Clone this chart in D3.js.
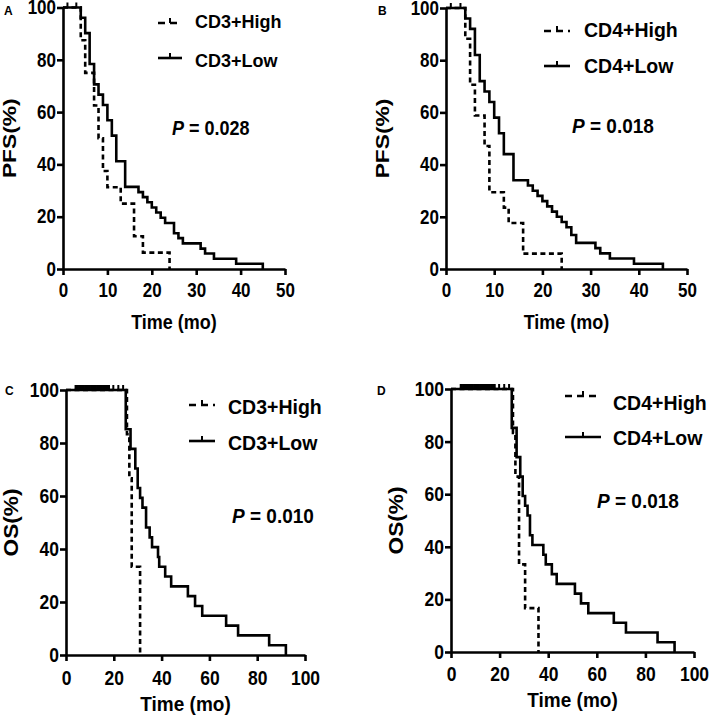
<!DOCTYPE html>
<html lang="en">
<head>
<meta charset="UTF-8">
<title>Kaplan-Meier PFS / OS by CD3+ and CD4+</title>
<script src="https://d3js.org/d3.v7.min.js"></script>
<style>
    body { margin: 0; background: #fff; }
    svg text { font-family: "Liberation Sans", Arial, sans-serif; font-weight: bold; fill: #000; }
</style>
</head>
<body>
<script>
// tick values
const yTicks = [0, 20, 40, 60, 80, 100];
const pfsXTicks = [0, 10, 20, 30, 40, 50];
const osXTicks = [0, 20, 40, 60, 80, 100];

// censor marks (months), all at 100%
const pfsCensor = [1, 3];
const osCensor = [4, 4.5, 5, 5.5, 6, 6.5, 7, 7.5, 8, 8.5, 9, 9.5, 10, 10.5, 11, 11.5,
    12, 12.5, 13, 13.5, 14, 14.5, 15, 15.5, 16, 16.5, 17, 17.5, 18, 19.8, 21.9, 23.9];

// A: PFS, CD3+
const aLowT = [4, 5, 6, 7, 8, 9, 10, 11, 12, 14, 17, 18, 19, 20, 21, 22, 23, 25, 26, 27, 31, 32, 34, 39, 45];
const aLowS = [96.1, 90.2, 78.4, 70.6, 66.7, 62.7, 56.9, 51.0, 41.2, 31.4, 29.4, 27.5, 25.5, 23.5, 21.6, 19.6, 17.6, 13.7, 11.8, 9.8, 7.8, 5.9, 3.9, 2.0, 0];
const aHighT = [4, 5, 7, 8, 9, 10, 13, 16, 18, 24];
const aHighS = [87.5, 75, 62.5, 50, 37.5, 31.25, 25, 12.5, 6.25, 0];

// B: PFS, CD4+
const bLowT = [4, 5, 6, 7, 8, 9, 10, 11, 12, 14, 17, 18, 19, 20, 21, 22, 23, 24, 25, 26, 27, 31, 32, 34, 39, 45];
const bLowS = [96, 92, 82, 72, 68, 64, 58, 52, 44, 34, 32, 30, 28, 26, 24, 22, 20, 18, 16, 13, 10, 8, 6, 4, 2, 0];
const bHighT = [4, 5, 6, 8, 9, 12, 13, 16, 24];
const bHighS = [88.2, 70.6, 58.8, 47.1, 29.4, 23.5, 17.6, 5.9, 0];

// C: OS, CD3+
const cLowT = [25, 27, 29, 30, 31, 32, 33.5, 35, 36, 38.5, 39, 41.5, 44, 51, 54, 57, 67, 72, 85, 92];
const cLowS = [85.2, 77.8, 70.4, 63.0, 59.3, 55.6, 48.1, 44.4, 40.7, 37.0, 33.3, 29.6, 25.9, 22.2, 18.5, 14.8, 11.1, 7.4, 3.7, 0];
const cHighT = [25.5, 26.5, 27.5, 31];
const cHighS = [83.3, 66.7, 33.3, 0];

// D: OS, CD4+
const dLowT = [25, 27, 28.5, 29.5, 30.5, 31.5, 32.5, 33.5, 38, 39, 41.5, 43.5, 51, 53.5, 56.5, 67, 72, 85, 92];
const dLowS = [85.2, 74.1, 66.7, 59.3, 55.6, 51.9, 44.4, 40.7, 37.0, 33.3, 29.6, 25.9, 22.2, 18.5, 14.8, 11.1, 7.4, 3.7, 0];
const dHighT = [25.5, 26.5, 28, 30.5, 36];
const dHighS = [83.3, 66.7, 33.3, 16.7, 0];

const svg = d3.select('body').append('svg')
    .attr('width', 709)
    .attr('height', 717);

const LW = 2.6;
const DASH = '5,3.5';
const STRETCH = 1.15; // the source figure's text is a bit taller than wide

function drawPanel(p) {
    const x = d3.scaleLinear().domain([0, p.xMax]).range([p.x0, p.x1]);
    const y = d3.scaleLinear().domain([0, 100]).range([p.yb, p.yt]);
    const g = svg.append('g');

    // axes
    const ax = g.append('g')
        .attr('transform', `translate(0,${p.yb})`)
        .call(d3.axisBottom(x).tickValues(p.xTicks).tickSize(6).tickPadding(p.xPad).tickSizeOuter(0));
    const ay = g.append('g')
        .attr('transform', `translate(${p.x0},0)`)
        .call(d3.axisLeft(y).tickValues(yTicks).tickSize(6).tickPadding(1).tickSizeOuter(0));
    [ax, ay].forEach(a => {
        a.selectAll('path, line').attr('stroke', '#000').attr('stroke-width', LW);
        a.selectAll('text')
            .style('font-size', p.tickFs + 'px')
            .attr('fill', '#000')
            .attr('transform', `scale(1,${STRETCH})`);
    });

    // step curves
    const line = d3.line().x(d => x(d[0])).y(d => y(d[1])).curve(d3.curveStepAfter);
    const pts = (T, S) => [[0, 100]].concat(T.map((t, i) => [t, S[i]]));

    g.append('path')
        .attr('d', line(pts(p.lowT, p.lowS)))
        .attr('fill', 'none').attr('stroke', '#000').attr('stroke-width', LW);
    g.append('path')
        .attr('d', line(pts(p.highT, p.highS)))
        .attr('fill', 'none').attr('stroke', '#000').attr('stroke-width', LW)
        .attr('stroke-dasharray', DASH);

    // censor ticks
    g.selectAll('.cens').data(p.censor).enter().append('line')
        .attr('x1', d => x(d)).attr('x2', d => x(d))
        .attr('y1', y(100)).attr('y2', y(100) - 5)
        .attr('stroke', '#000').attr('stroke-width', 2);

    // axis titles
    g.append('text')
        .attr('transform', `translate(${(p.x0 + p.x1) / 2},${p.xTitleY}) scale(1,1.1)`)
        .attr('text-anchor', 'middle')
        .style('font-size', p.titleFs + 'px')
        .text('Time (mo)');
    g.append('text')
        .attr('transform', `translate(${p.yTitleX},${(p.yt + p.yb) / 2}) rotate(-90) scale(${p.yTitleSc},1)`)
        .attr('text-anchor', 'middle')
        .style('font-size', p.yTitleFs + 'px')
        .text(p.yTitle);

    // panel letter
    g.append('text')
        .attr('x', p.letterX).attr('y', p.letterY)
        .style('font-size', '12px')
        .text(p.letter);

    // legend
    const L = p.legend;
    [0, 1].forEach(i => {
        const ly = L.symY[i];
        g.append('line')
            .attr('x1', L.x).attr('x2', L.x + L.w)
            .attr('y1', ly).attr('y2', ly)
            .attr('stroke', '#000').attr('stroke-width', LW)
            .attr('stroke-dasharray', i === 0 ? '7,5' : null);
        g.append('line')
            .attr('x1', L.x + L.w / 2).attr('x2', L.x + L.w / 2)
            .attr('y1', ly).attr('y2', ly - 5)
            .attr('stroke', '#000').attr('stroke-width', 2);
        g.append('text')
            .attr('x', L.textX).attr('y', L.textY[i])
            .style('font-size', L.fs + 'px')
            .text(L.names[i]);
    });

    // p value
    const pt = g.append('text')
        .attr('transform', `translate(${p.pX},${p.pY}) scale(1,1.08)`)
        .style('font-size', p.pFs + 'px');
    pt.append('tspan').style('font-style', 'italic').text('P');
    pt.append('tspan').text(' = ' + p.pValue);
}

drawPanel({
    letter: 'A', letterX: 4, letterY: 15,
    x0: 63, x1: 285, yt: 7.5, yb: 269, xMax: 50, xTicks: pfsXTicks, xPad: 6,
    tickFs: 17, titleFs: 18, yTitleFs: 19, yTitleSc: 1.2, xTitleY: 329, yTitleX: 16, yTitle: 'PFS(%)',
    lowT: aLowT, lowS: aLowS, highT: aHighT, highS: aHighS, censor: pfsCensor,
    legend: { names: ['CD3+High', 'CD3+Low'], x: 158, w: 24, symY: [23, 58], textX: 195, textY: [28, 67], fs: 18 },
    pX: 172, pY: 135, pFs: 18, pValue: '0.028'
});

drawPanel({
    letter: 'B', letterX: 378, letterY: 15,
    x0: 446, x1: 687, yt: 8, yb: 269, xMax: 50, xTicks: pfsXTicks, xPad: 6,
    tickFs: 17, titleFs: 18, yTitleFs: 19, yTitleSc: 1.2, xTitleY: 329, yTitleX: 389, yTitle: 'PFS(%)',
    lowT: bLowT, lowS: bLowS, highT: bHighT, highS: bHighS, censor: pfsCensor,
    legend: { names: ['CD4+High', 'CD4+Low'], x: 544, w: 26, symY: [31, 66], textX: 584, textY: [37, 73], fs: 19.5 },
    pX: 572, pY: 133, pFs: 19, pValue: '0.018'
});

drawPanel({
    letter: 'C', letterX: 5, letterY: 395,
    x0: 66, x1: 305, yt: 390, yb: 655, xMax: 100, xTicks: osXTicks, xPad: 8,
    tickFs: 17.5, titleFs: 19, yTitleFs: 19.5, yTitleSc: 1.16, xTitleY: 711, yTitleX: 18, yTitle: 'OS(%)',
    lowT: cLowT, lowS: cLowS, highT: cHighT, highS: cHighS, censor: osCensor,
    legend: { names: ['CD3+High', 'CD3+Low'], x: 189, w: 26, symY: [405, 441], textX: 228, textY: [414, 450], fs: 19.5 },
    pX: 232, pY: 523, pFs: 19, pValue: '0.010'
});

drawPanel({
    letter: 'D', letterX: 377, letterY: 395,
    x0: 451, x1: 694, yt: 389, yb: 652, xMax: 100, xTicks: osXTicks, xPad: 7,
    tickFs: 17.5, titleFs: 19, yTitleFs: 19.5, yTitleSc: 1.16, xTitleY: 707, yTitleX: 403, yTitle: 'OS(%)',
    lowT: dLowT, lowS: dLowS, highT: dHighT, highS: dHighS, censor: osCensor,
    legend: { names: ['CD4+High', 'CD4+Low'], x: 565, w: 36, symY: [396, 437], textX: 613, textY: [410, 445], fs: 19.5 },
    pX: 597, pY: 508, pFs: 19, pValue: '0.018'
});
</script>
</body>
</html>
